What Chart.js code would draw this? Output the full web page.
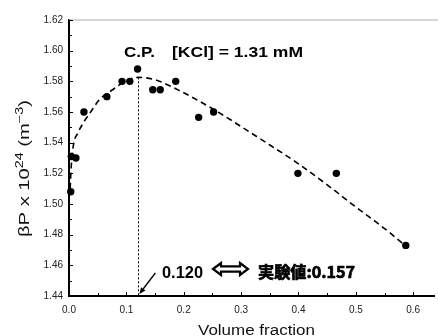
<!DOCTYPE html>
<html><head><meta charset="utf-8">
<script src="https://cdn.jsdelivr.net/npm/chart.js@4/dist/chart.umd.min.js"></script>
<style>html,body{margin:0;padding:0;background:#fff}canvas{display:block}</style>
</head><body>
<canvas id="c" width="438" height="336"></canvas>
<script>
// Measured points
const volumeFraction = [0.003, 0.004, 0.012, 0.026, 0.066, 0.0925, 0.106, 0.1195, 0.146, 0.159, 0.186, 0.226, 0.252, 0.399, 0.466, 0.587];
const betaP          = [1.508, 1.531, 1.530, 1.560, 1.570, 1.580, 1.580, 1.588, 1.5745, 1.5745, 1.580, 1.5565, 1.560, 1.520, 1.520, 1.473];
// Dashed fitted curve
const fitX = [0.002, 0.004, 0.008, 0.015, 0.025, 0.036, 0.053, 0.076, 0.100, 0.120, 0.150, 0.200, 0.257, 0.300, 0.350, 0.400, 0.450, 0.500, 0.550, 0.591];
const fitY = [1.510, 1.525, 1.539, 1.546, 1.553, 1.559, 1.568, 1.5745, 1.5805, 1.5826, 1.581, 1.5725, 1.5606, 1.5505, 1.5385, 1.5262, 1.5125, 1.498, 1.484, 1.4713];
// Ticks
const xTickValues = [0.0, 0.1, 0.2, 0.3, 0.4, 0.5, 0.6];
const xMinorValues = [0.05, 0.15, 0.25, 0.35, 0.45, 0.55];
const yTickValues = [1.44, 1.46, 1.48, 1.50, 1.52, 1.54, 1.56, 1.58, 1.60, 1.62];
const yMinorValues = [1.45, 1.47, 1.49, 1.51, 1.53, 1.55, 1.57, 1.59, 1.61];
// Annotations
const cpX = 0.120, cpY = 1.5826;
const cpLabel = "C.P.";
const kclLabel = "[KCl] = 1.31 mM";
const calcLabel = "0.120";
const expLabel = "実験値:0.157";
const xTitle = "Volume fraction";

function fitText(ctx, text, x, y, w, font, strokeW) {
  ctx.save();
  ctx.font = font;
  const m = ctx.measureText(text).width;
  ctx.translate(x, y);
  ctx.scale(w / m, 1);
  ctx.fillText(text, 0, 0);
  if (strokeW) { ctx.lineWidth = strokeW; ctx.strokeStyle = ctx.fillStyle; ctx.strokeText(text, 0, 0); }
  ctx.restore();
}

const overlay = {
  id: 'overlay',
  afterDraw(chart) {
    const ctx = chart.ctx, ca = chart.chartArea;
    const xs = chart.scales.x, ys = chart.scales.y;
    ctx.save();
    // top border
    ctx.strokeStyle = '#c8c8c8'; ctx.lineWidth = 1.6;
    ctx.beginPath(); ctx.moveTo(ca.left, ca.top); ctx.lineTo(438, ca.top); ctx.stroke();
    // inward ticks
    ctx.strokeStyle = '#000'; ctx.lineWidth = 1;
    ctx.beginPath();
    xTickValues.forEach(v => { const p = Math.round(xs.getPixelForValue(v)) + 0.5; ctx.moveTo(p, ca.bottom); ctx.lineTo(p, ca.bottom - 4); });
    xMinorValues.forEach(v => { const p = Math.round(xs.getPixelForValue(v)) + 0.5; ctx.moveTo(p, ca.bottom); ctx.lineTo(p, ca.bottom - 3); });
    yTickValues.forEach(v => { const p = Math.round(ys.getPixelForValue(v)) + 0.5; ctx.moveTo(ca.left, p); ctx.lineTo(ca.left + 4, p); });
    yMinorValues.forEach(v => { const p = Math.round(ys.getPixelForValue(v)) + 0.5; ctx.moveTo(ca.left, p); ctx.lineTo(ca.left + 3, p); });
    ctx.stroke();
    // vertical dotted line at C.P.
    const vx = Math.round(xs.getPixelForValue(cpX)) + 0.5;
    ctx.setLineDash([2, 2]);
    ctx.beginPath(); ctx.moveTo(vx, ys.getPixelForValue(cpY)); ctx.lineTo(vx, ys.getPixelForValue(1.44)); ctx.stroke();
    ctx.setLineDash([]);
    // arrow
    const tipX = xs.getPixelForValue(cpX) + 1.5, tipY = ys.getPixelForValue(1.44) - 2;
    const tailX = tipX + 16, tailY = tipY - 21;
    ctx.lineWidth = 1.3;
    ctx.beginPath(); ctx.moveTo(tailX, tailY); ctx.lineTo(tipX + 3, tipY - 4); ctx.stroke();
    const ang = Math.atan2(tipY - tailY, tipX - tailX);
    ctx.fillStyle = '#000';
    ctx.beginPath();
    ctx.moveTo(tipX, tipY);
    ctx.lineTo(tipX - 7 * Math.cos(ang - 0.4), tipY - 7 * Math.sin(ang - 0.4));
    ctx.lineTo(tipX - 7 * Math.cos(ang + 0.4), tipY - 7 * Math.sin(ang + 0.4));
    ctx.closePath(); ctx.fill();
    // hollow double arrow
    ctx.lineWidth = 2.2; ctx.lineJoin = 'miter';
    ctx.beginPath();
    ctx.moveTo(213, 269); ctx.lineTo(221, 263); ctx.lineTo(221, 266.3); ctx.lineTo(240, 266.3);
    ctx.lineTo(240, 263); ctx.lineTo(248, 269); ctx.lineTo(240, 275); ctx.lineTo(240, 271.7);
    ctx.lineTo(221, 271.7); ctx.lineTo(221, 275); ctx.closePath(); ctx.stroke();
    // texts
    ctx.fillStyle = '#000'; ctx.textBaseline = 'alphabetic'; ctx.textAlign = 'left';
    fitText(ctx, cpLabel, 124, 57, 31, 'bold 15px "Liberation Sans", Arial, sans-serif');
    fitText(ctx, kclLabel, 172, 57, 131, 'bold 15px "Liberation Sans", Arial, sans-serif');
    fitText(ctx, calcLabel, 162, 277.5, 41, 'bold 16px "Liberation Sans", Arial, sans-serif');
    fitText(ctx, expLabel, 258, 277.5, 97, 'bold 16px "Noto Sans CJK JP", "Liberation Sans", sans-serif', 0.7);
    // x title
    ctx.fillStyle = '#111';
    fitText(ctx, xTitle, 198, 335, 117, '14px "Liberation Sans", Arial, sans-serif');
    // y title (rotated, with superscripts)
    const parts = [
      {t: 'βP x 10', f: '14px "Liberation Sans", Arial, sans-serif', dy: 0},
      {t: '24', f: '10px "Liberation Sans", Arial, sans-serif', dy: -6},
      {t: ' (m', f: '14px "Liberation Sans", Arial, sans-serif', dy: 0},
      {t: '−3', f: '10px "Liberation Sans", Arial, sans-serif', dy: -6},
      {t: ')', f: '14px "Liberation Sans", Arial, sans-serif', dy: 0}
    ];
    let total = 0;
    parts.forEach(p => { ctx.font = p.f; p.w = ctx.measureText(p.t).width; total += p.w; });
    const sc = 137 / total;
    ctx.translate(29, 237);
    ctx.rotate(-Math.PI / 2);
    ctx.scale(sc, 1);
    let cx = 0;
    parts.forEach(p => { ctx.font = p.f; ctx.fillText(p.t, cx, p.dy); cx += p.w; });
    ctx.restore();
  }
};

new Chart(document.getElementById('c'), {
  type: 'scatter',
  data: {
    datasets: [
      {
        data: volumeFraction.map((v, i) => ({x: v, y: betaP[i]})),
        pointRadius: 3.7, pointBackgroundColor: '#000', pointBorderWidth: 0, pointBorderColor: '#000',
        showLine: false, clip: false, order: 0
      },
      {
        data: fitX.map((v, i) => ({x: v, y: fitY[i]})),
        showLine: true, pointRadius: 0, borderColor: '#000', borderWidth: 1.6,
        borderDash: [6, 4], cubicInterpolationMode: 'monotone', clip: false, order: 1
      }
    ]
  },
  options: {
    responsive: false, animation: false, devicePixelRatio: 1,
    layout: {padding: {top: 20, left: 0, right: 0, bottom: 0}},
    plugins: {legend: {display: false}, tooltip: {enabled: false}},
    scales: {
      x: {
        type: 'linear', min: 0, max: 0.6362,
        afterBuildTicks: s => { s.ticks = xTickValues.map(v => ({value: v})); },
        afterFit: s => { s.height = 40; },
        ticks: {callback: v => Number(v).toFixed(1), font: {family: '"Liberation Sans", Arial', size: 10}, color: '#222', padding: 8, maxRotation: 0, autoSkip: false},
        grid: {display: false, drawTicks: false},
        border: {display: true, color: '#000', width: 2}
      },
      y: {
        type: 'linear', min: 1.44, max: 1.62,
        afterBuildTicks: s => { s.ticks = yTickValues.map(v => ({value: v})); },
        afterFit: s => { s.width = 69; },
        ticks: {callback: v => Number(v).toFixed(2), font: {family: '"Liberation Sans", Arial', size: 10}, color: '#222', padding: 6, autoSkip: false},
        grid: {display: false, drawTicks: false},
        border: {display: true, color: '#000', width: 2}
      }
    }
  },
  plugins: [overlay]
});
</script>
</body></html>
